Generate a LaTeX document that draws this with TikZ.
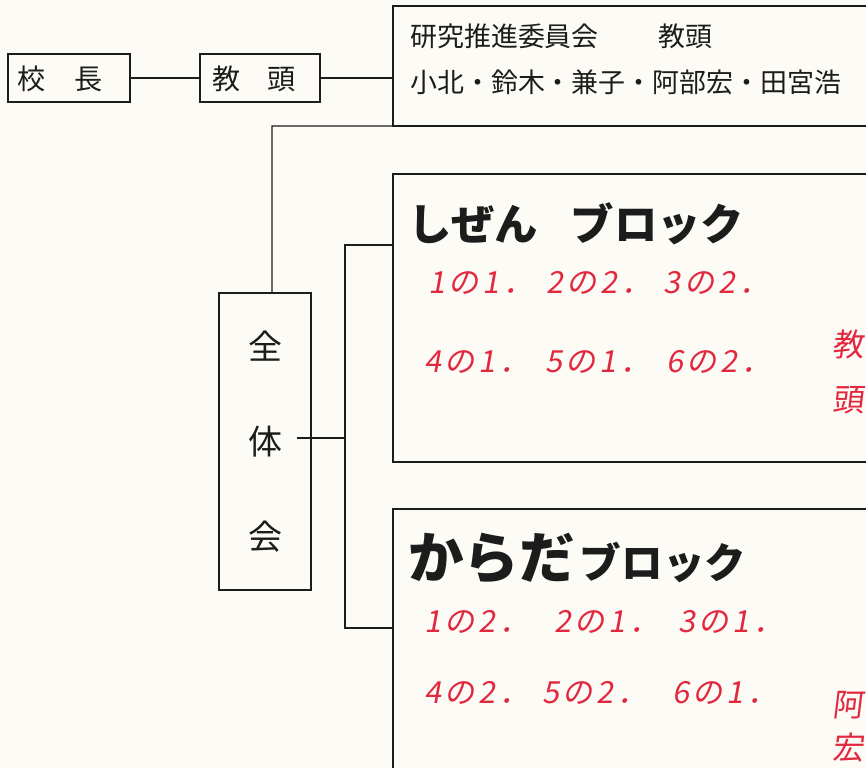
\documentclass[tikz,border=0pt]{standalone}
\usepackage{fontspec}
\newfontfamily\jp{Noto Sans CJK JP}
\newfontfamily\jphand[FakeSlant=0.18,LetterSpace=12]{Noto Sans CJK JP}
\newfontfamily\jphandk[FakeSlant=0.12]{Noto Sans CJK JP}
\definecolor{paper}{RGB}{252,251,246}
\definecolor{ink}{RGB}{28,28,28}
\definecolor{pen}{RGB}{226,40,62}
\tikzset{
  box/.style={draw=ink, line width=0.9pt, inner sep=0pt, outer sep=0pt},
  line/.style={draw=ink, line width=0.9pt},
  printtxt/.style={text=ink, inner sep=0pt},
  handtxt/.style={text=pen, inner sep=0pt, anchor=west, font=\jphand\fontsize{26}{26}\selectfont},
  handbig/.style={text=pen, inner sep=0pt, anchor=east, font=\jphandk\fontsize{27}{27}\selectfont},
}
\begin{document}
\begin{tikzpicture}[x=0.03cm,y=-0.03cm]
\fill[paper] (0,0) rectangle (866,768);
\useasboundingbox (0,0) rectangle (866,768);

% boxes
\node[box, minimum width=3.66cm, minimum height=1.44cm] (kocho) at (69,78) {};
\node[box, minimum width=3.6cm, minimum height=1.44cm] (kyoto) at (260,78) {};
\node[box, minimum width=18.21cm, minimum height=3.6cm] (top) at (696.5,66) {};
\node[box, minimum width=18.21cm, minimum height=8.64cm] (shizen) at (696.5,318) {};
\node[box, minimum width=18.21cm, minimum height=11.73cm] (karada) at (696.5,704.5) {};
\node[box, minimum width=2.76cm, minimum height=8.91cm, align=center,
      font=\jp\fontsize{29}{81}\selectfont, text=ink] (zentai) at (265,441.5) {全\\体\\会};

% box texts
\node[printtxt, font=\jp\fontsize{24}{24}\selectfont] (tkocho) at (60,79) {校\hspace{1.05em}長};
\node[printtxt, font=\jp\fontsize{24}{24}\selectfont] (tkyoto) at (254,79) {教\hspace{0.95em}頭};
\node[printtxt, anchor=west, font=\jp\fontsize{23}{23}\selectfont] (tcomm) at (410,36) {研究推進委員会\hspace{2.2em}教頭};
\node[printtxt, anchor=west, font=\jp\fontsize{23}{23}\selectfont] (tmem) at (410,82) {小北・鈴木・兼子・阿部宏・田宮浩};
\node[printtxt, anchor=west, font=\jp\bfseries\fontsize{37}{37}\selectfont] (tshizen) at (408,224) {しぜん\hspace{0.75em}ブロック};
\node[printtxt, anchor=west, font=\jp\bfseries] (tkarada) at (408,558)
  {{\fontsize{47.5}{47.5}\selectfont からだ}\hspace{0.4em}{\fontsize{35.5}{35.5}\selectfont ブロック}};

% handwritten red notes
\node[handtxt] (s1) at (428,283) {1の1．\hspace{0.4em}2の2．\hspace{0.4em}3の2．};
\node[handtxt] (s2) at (424,362) {4の1．\hspace{0.5em}5の1．\hspace{0.5em}6の2．};
\node[handbig] (s3) at (864,345) {教};
\node[handbig] (s4) at (864,400) {頭};
\node[handtxt] (k1) at (424,622) {1の2．\hspace{0.8em}2の1．\hspace{0.6em}3の1．};
\node[handtxt] (k2) at (424,693) {4の2．\hspace{0.4em}5の2．\hspace{0.8em}6の1．};
\node[handbig] (k3) at (864,705) {阿};
\node[handbig] (k4) at (864,748) {宏};

% connectors
\coordinate (j) at (272,126);
\coordinate (taiR) at (297,438);
\coordinate (bus) at (345,438);
\coordinate (busTop) at (345,245);
\coordinate (busBot) at (345,628);
\draw[line] (kocho.east) -- (kyoto.west);
\draw[line] (kyoto.east) -- (kyoto.east -| top.west);
\draw[line] (top.south west) -- (j) -- (j |- zentai.north);
\draw[line] (taiR) -- (bus);
\draw[line] (busTop -| shizen.west) -- (busTop) -- (busBot) -- (busBot -| karada.west);
\end{tikzpicture}
\end{document}
